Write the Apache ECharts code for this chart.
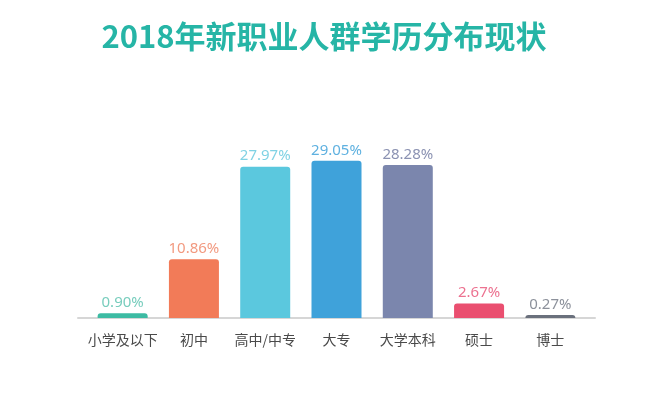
<!DOCTYPE html>
<html><head><meta charset="utf-8">
<script src="https://cdn.jsdelivr.net/npm/echarts@6/dist/echarts.min.js"></script>
<style>html,body{margin:0;padding:0;background:#fff;}#c{width:648px;height:396px;}</style>
</head><body><div id="c"></div>
<script>
const titleText = '2018年新职业人群学历分布现状';
const categories = ['小学及以下','初中','高中/中专','大专','大学本科','硕士','博士'];
const values = [0.90, 10.86, 27.97, 29.05, 28.28, 2.67, 0.27];
const barColors = ['#3dbba3','#f27b58','#5bc8de','#3fa2da','#7b86ad','#ea4f70','#6a707c'];
const labelColors = ['#78cdbd','#f29a80','#80d2e4','#5fb1e0','#8b92b2','#ec7290','#8c919b'];

const chart = echarts.init(document.getElementById('c'));
chart.setOption({
  animation: false,
  backgroundColor: '#fff',
  title: {
    text: titleText, left: 'center', top: 16,
    textStyle: {color: '#26b5a6', fontSize: 31, fontWeight: 'bold', fontFamily: 'Noto Sans CJK SC'}
  },
  grid: [
    {left: 87, right: 62, top: 80, bottom: 78},
    {left: 78, right: 53, top: 80, bottom: 78}
  ],
  xAxis: [
    {type: 'category', gridIndex: 0, data: categories,
     axisLine: {show: false}, axisTick: {show: false},
     axisLabel: {color: '#4a4a4a', fontSize: 14, margin: 15, interval: 0, fontFamily: 'Noto Sans CJK SC'}},
    {type: 'category', gridIndex: 1, data: categories,
     axisLine: {show: true, lineStyle: {color: '#d6d6d6', width: 2}},
     axisTick: {show: false}, axisLabel: {show: false}}
  ],
  yAxis: [
    {type: 'value', gridIndex: 0, min: 0, max: 44, show: false},
    {type: 'value', gridIndex: 1, min: 0, max: 44, show: false}
  ],
  series: [{
    type: 'bar', xAxisIndex: 0, yAxisIndex: 0, barWidth: 50, barMinHeight: 3, z: 3,
    data: values.map((v, i) => ({
      value: v,
      itemStyle: {color: barColors[i], borderRadius: [3,3,0,0]},
      label: {color: labelColors[i]}
    })),
    label: {show: true, position: 'top', distance: 3, fontSize: 15,
      fontFamily: 'Noto Sans', formatter: p => p.value.toFixed(2) + '%'}
  }]
});
</script></body></html>
